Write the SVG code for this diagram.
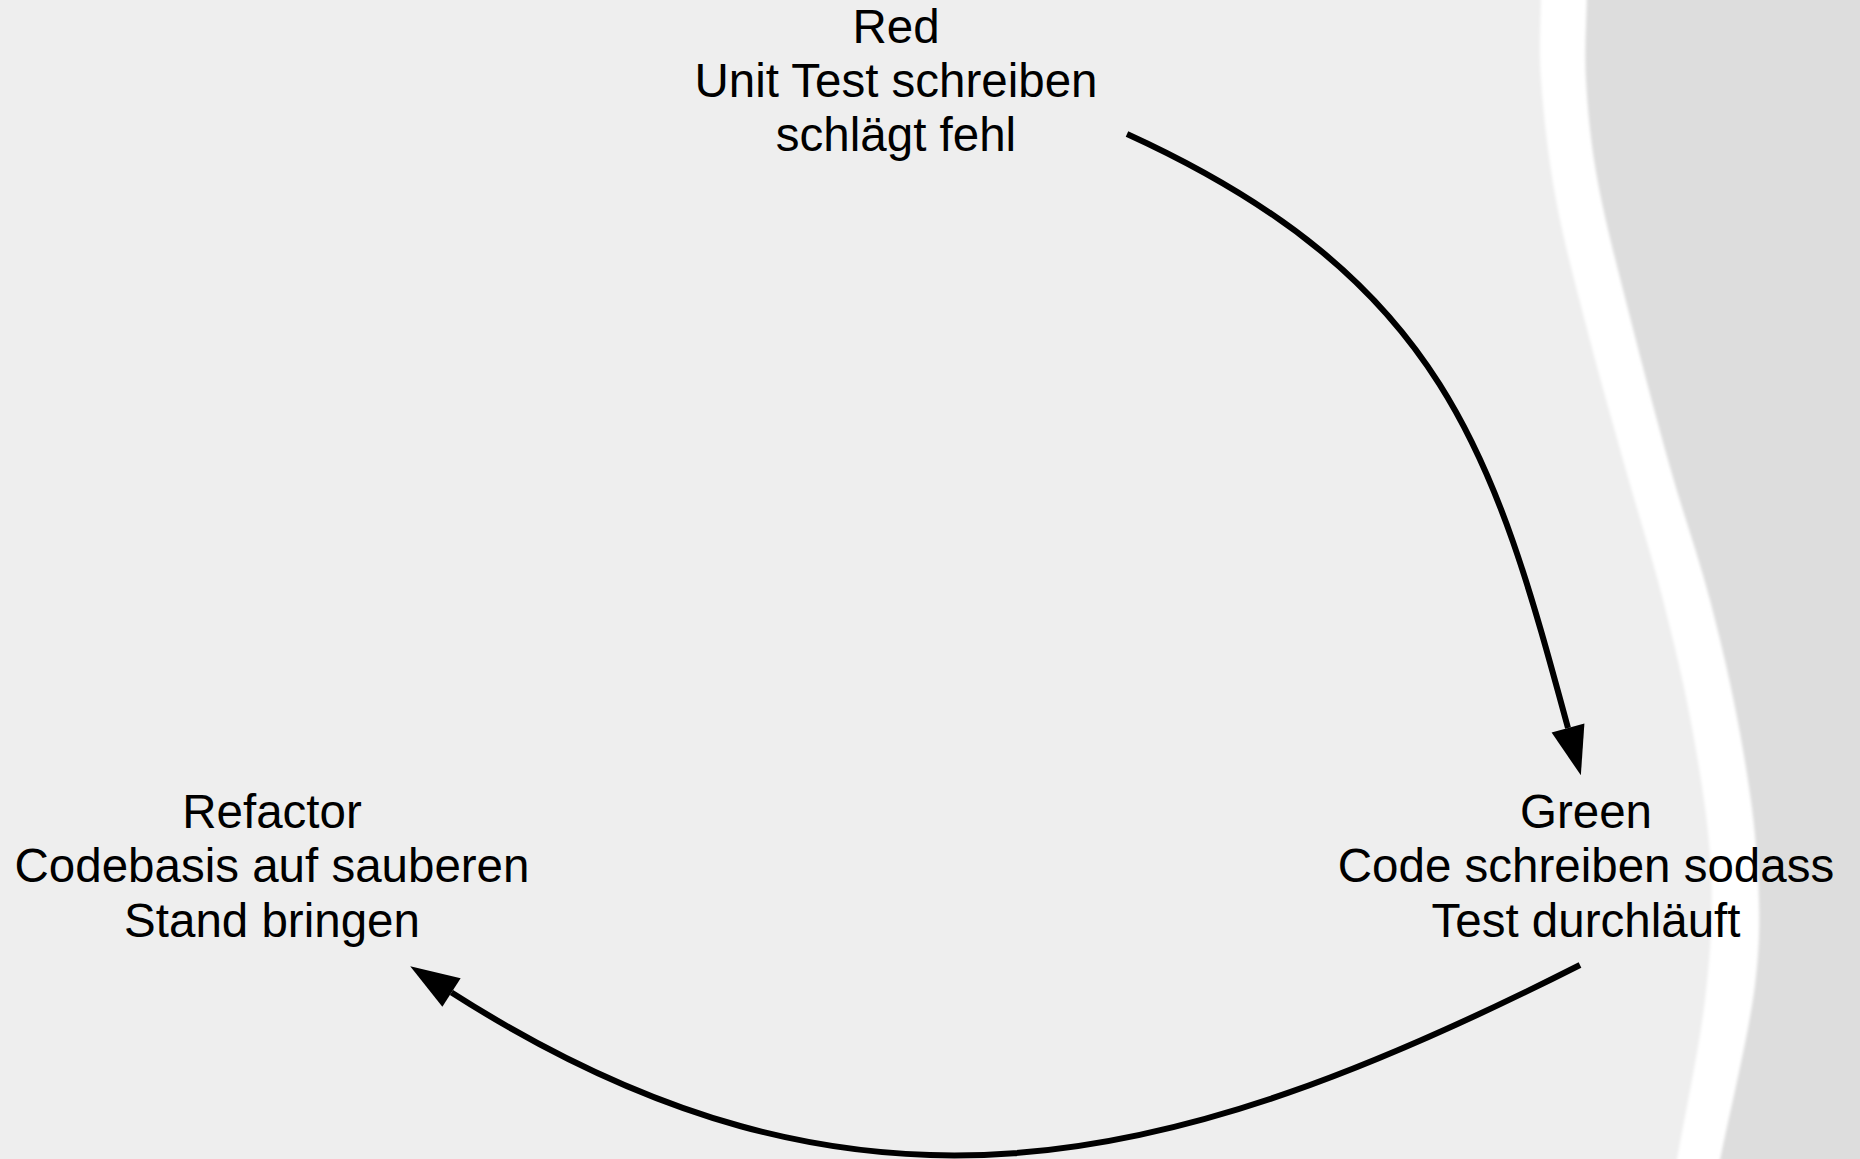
<svg xmlns="http://www.w3.org/2000/svg" width="1860" height="1159" viewBox="0 0 1860 1159">
<style>
.lbl{font-family:"Liberation Sans",Arial,sans-serif;font-size:47.5px;fill:#000;text-anchor:middle}
.conn{fill:none;stroke:#000;stroke-width:6;stroke-linecap:butt;marker-end:url(#ah)}
</style>
<defs>
<marker id="ah" markerUnits="userSpaceOnUse" markerWidth="50" markerHeight="34" refX="0" refY="17" orient="auto" overflow="visible">
<path d="M0,0 L49,17 L0,34 Z" fill="#000"/>
</marker>
<filter id="soft" x="-10%" y="-5%" width="120%" height="110%">
<feGaussianBlur stdDeviation="1.5"/>
</filter>
</defs>
<rect id="background" x="0" y="0" width="1860" height="1159" fill="#eeeeee"/>
<g id="wave">
<path filter="url(#soft)" fill="#ffffff" d="M1541,-10 C1541,20 1538.5,45 1541,80 C1543.5,115 1548.17,157.83 1556,200 C1563.83,242.17 1576.5,288.5 1588,333 C1599.5,377.5 1612.5,422.5 1625,467 C1637.5,511.5 1651.67,555.67 1663,600 C1674.33,644.33 1685,688 1693,733 C1701,778 1709,825.5 1711,870 C1713,914.5 1710.83,950.83 1705,1000 C1699.17,1049.17 1685.67,1110 1676,1165 L1870,1165 L1870,-10 Z"/>
<path filter="url(#soft)" fill="#dddddd" d="M1587,-10 C1586.67,20 1584.17,47.83 1586,80 C1587.83,112.17 1590.67,143.5 1598,183 C1605.33,222.5 1618,269.67 1630,317 C1642,364.33 1656.67,419.83 1670,467 C1683.33,514.17 1698.33,555.67 1710,600 C1721.67,644.33 1732.17,689.67 1740,733 C1747.83,776.33 1754.5,818 1757,860 C1759.5,902 1761.33,934.17 1755,985 C1748.67,1035.83 1731,1105 1719,1165 L1870,1165 L1870,-10 Z"/>
</g>
<g id="connectors">
<path id="red-to-green" class="conn" d="M1127,134 C1445.5,279.3 1494.6,457.8 1568,728"/>
<path id="green-to-refactor" class="conn" d="M1580,965 C1170.6,1172 856,1250.7 451.5,992.5"/>
</g>
<g id="node-red">
<text class="lbl" x="896" y="43">Red</text>
<text class="lbl" x="896" y="97">Unit Test schreiben</text>
<text class="lbl" x="896" y="151">schlägt fehl</text>
</g>
<g id="node-green">
<text class="lbl" x="1586" y="828">Green</text>
<text class="lbl" x="1586" y="882">Code schreiben sodass</text>
<text class="lbl" x="1586" y="937">Test durchläuft</text>
</g>
<g id="node-refactor">
<text class="lbl" x="272" y="828">Refactor</text>
<text class="lbl" x="272" y="882">Codebasis auf sauberen</text>
<text class="lbl" x="272" y="937">Stand bringen</text>
</g>
</svg>
